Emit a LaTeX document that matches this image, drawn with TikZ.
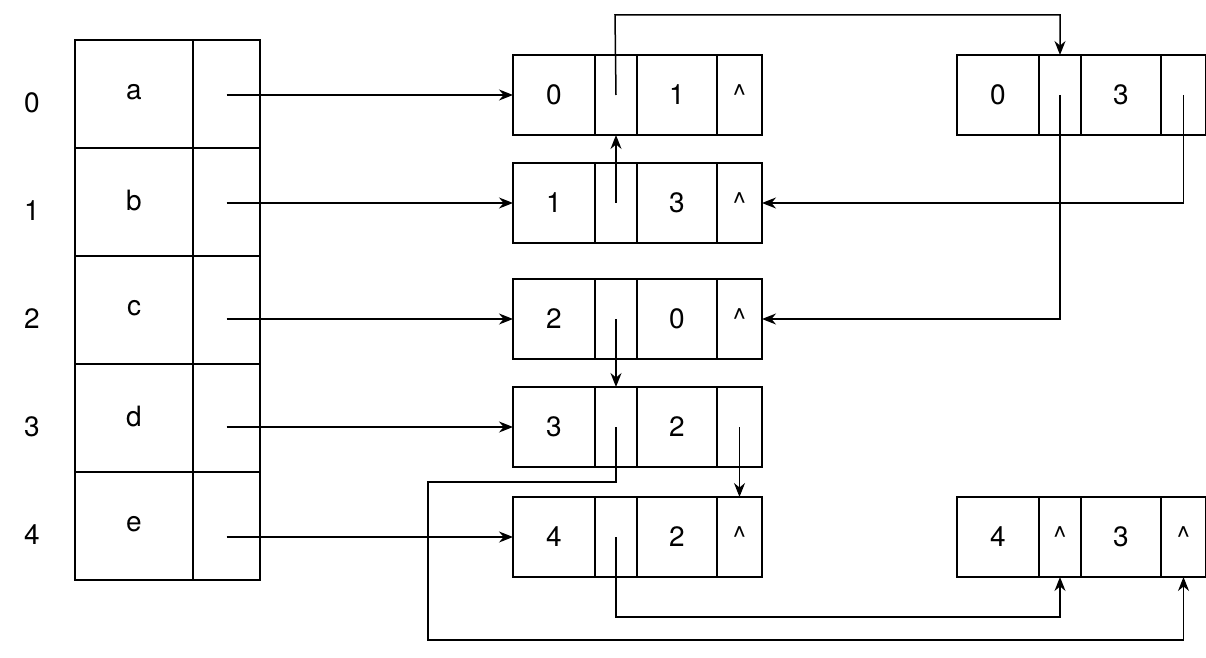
\documentclass[tikz,border=0pt]{standalone}
\usepackage{fontspec}
\setmainfont{TeX Gyre Heros}
\usetikzlibrary{arrows.meta,calc}

\tikzset{
  cell/.style={draw, line width=0.75pt, inner sep=0pt, outer sep=0pt, minimum height=40pt, font=\fontsize{14}{16}\selectfont},
  tcell/.style={cell, minimum height=54pt},
  link/.style={line width=0.75pt, -{Stealth[length=7pt,width=5.5pt]}},
}

% one list record: name, left x, top y, four texts
\newcommand{\rec}[7]{
  \node[cell, minimum width=41pt] (#1a) at (#2+41,#3+40) {#4};
  \node[cell, minimum width=21pt] (#1b) at (#2+103,#3+40) {#5};
  \node[cell, minimum width=40pt] (#1c) at (#2+164,#3+40) {#6};
  \node[cell, minimum width=22.5pt] (#1d) at (#2+226.5,#3+40) {#7};
}

\begin{document}
\begin{tikzpicture}[x=0.5pt, y=-0.5pt]
    \useasboundingbox[fill=white] (0,0) rectangle (1206,658);

    % Vertex table
    \foreach \i/\v in {0/a,1/b,2/c,3/d,4/e} {
      \node[tcell, minimum width=59pt] (t\i a) at (134,94+108*\i) {\raisebox{2pt}{\v}};
      \node[tcell, minimum width=33.5pt] (t\i p) at (226.5,94+108*\i) {};
      \node[font=\fontsize{14}{16}\selectfont] (n\i) at (32,103+108*\i) {\i};
    }

    % Arc records
    \rec{r0}{513}{55}{0}{}{1}{\^{}}
    \rec{r1}{513}{163}{1}{}{3}{\^{}}
    \rec{r2}{513}{279}{2}{}{0}{\^{}}
    \rec{r3}{513}{387}{3}{}{2}{}
    \rec{r4}{513}{497}{4}{}{2}{\^{}}
    \rec{s0}{957}{55}{0}{}{3}{}
    \rec{s4}{957}{497}{4}{\^{}}{3}{\^{}}

    % Head pointers
    \foreach \i in {0,...,4}
      \draw[link] (r\i a.west -| t\i p.center) -- (r\i a.west);

    % Links
    \coordinate (k0) at (615,15);
    \coordinate (k1) at (428,482);
    \coordinate (k2) at (428,640);
    \draw[link] (r0b.center) -- (k0) -| (s0b.north);
    \draw[link] (r1b.center) -- (r0b.south);
    \draw[link] (s0d.center) |- (r1d.east);
    \draw[link] (s0b.center) |- (r2d.east);
    \draw[link] (r2b.center) -- (r3b.north);
    \draw[link] (r3d.center) -- (r4d.north);
    \draw[link] (r3b.center) |- (k1) -- (k2) -| (s4d.south);
    \draw[link] (r4b.center) -- ++(0,80) -| (s4b.south);
\end{tikzpicture}
\end{document}
